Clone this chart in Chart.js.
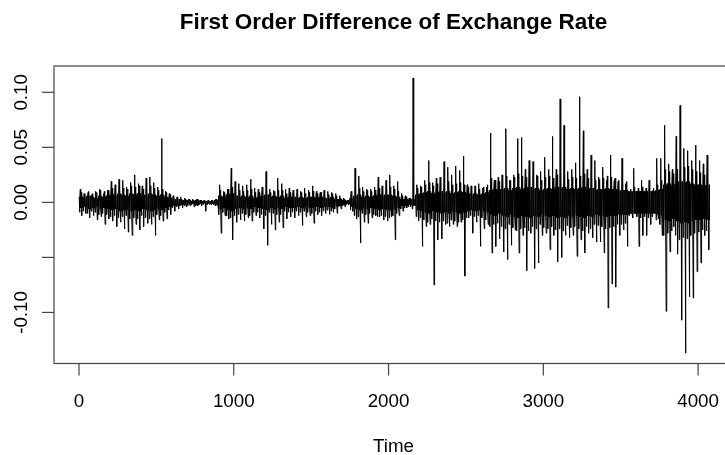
<!DOCTYPE html>
<html>
<head>
<meta charset="utf-8">
<script src="https://cdn.jsdelivr.net/npm/chart.js@4.4.1/dist/chart.umd.min.js"></script>
<style>
  html, body { margin: 0; padding: 0; background: #fff; overflow: hidden; }
  #wrap { width: 725px; height: 455px; overflow: hidden; }
</style>
</head>
<body>
<div id="wrap"><canvas id="myChart" width="760" height="455"></canvas></div>
<script>
// each bin spans 25 time steps (units of 0.001)
var binSize = 25;
// tallest upward stroke in each bin
var binHigh = [
  12, 8, 9, 7, 10, 12, 8, 11, 19, 16, 21, 20, 14, 18, 25, 17, 15, 22, 23, 18,
  14, 58, 10, 8, 6, 5, 5, 4, 3, 3, 3, 2, 2, 2, 2, 3, 16, 10, 12, 31,
  19, 17, 15, 16, 21, 13, 12, 14, 28, 12, 11, 22, 17, 12, 13, 11, 12, 10, 13, 11,
  15, 10, 9, 11, 10, 9, 8, 6, 4, 2, 10, 31, 24, 14, 12, 12, 14, 23, 15, 20,
  25, 15, 19, 8, 6, 4, 113, 16, 15, 20, 38, 18, 22, 23, 37, 32, 25, 33, 29, 42,
  16, 15, 15, 17, 13, 14, 63, 20, 23, 25, 67, 20, 25, 58, 59, 30, 38, 37, 25, 28,
  41, 30, 60, 30, 94, 70, 28, 30, 36, 96, 65, 30, 43, 38, 23, 32, 20, 43, 20, 19,
  40, 17, 10, 31, 10, 20, 10, 20, 11, 40, 40, 70, 35, 30, 60, 88, 49, 47, 38, 52,
  38, 35, 43
];
// deepest downward stroke in each bin
var binLow = [
  -12, -10, -14, -12, -16, -13, -20, -15, -17, -22, -18, -24, -27, -30, -20, -25, -22, -19, -20, -30,
  -16, -17, -15, -11, -8, -6, -5, -4, -3, -4, -3, -3, -8, -2, -2, -3, -28, -12, -15, -34,
  -18, -16, -17, -14, -17, -12, -14, -24, -39, -20, -25, -18, -23, -15, -13, -14, -12, -21, -13, -12,
  -19, -11, -12, -10, -11, -9, -10, -6, -4, -2, -8, -15, -37, -18, -19, -14, -12, -13, -16, -17,
  -13, -34, -12, -8, -5, -4, -3, -17, -40, -22, -20, -75, -34, -33, -20, -22, -20, -22, -18, -67,
  -14, -28, -18, -40, -24, -20, -46, -40, -33, -45, -52, -39, -25, -46, -30, -62, -28, -60, -55, -30,
  -28, -43, -30, -54, -50, -30, -32, -30, -49, -34, -46, -28, -32, -36, -36, -46, -96, -74, -77, -30,
  -25, -40, -10, -10, -40, -30, -30, -20, -10, -15, -30, -99, -45, -22, -47, -107, -137, -86, -87, -63,
  -55, -30, -43
];
// half-width of the solid black band in each bin
var binCore = [
  5, 4, 6, 5, 4, 6, 5, 6, 7, 6, 8, 7, 6, 8, 7, 8, 6, 7, 8, 7,
  6, 7, 5, 4, 3, 3, 2, 2, 2, 1, 2, 1, 1, 1, 1, 2, 6, 5, 7, 8,
  6, 5, 6, 5, 6, 4, 5, 6, 7, 5, 6, 5, 6, 4, 5, 5, 4, 5, 4, 5,
  5, 4, 5, 4, 4, 5, 3, 3, 2, 1, 4, 6, 7, 5, 6, 5, 6, 7, 6, 7,
  7, 6, 5, 3, 3, 2, 3, 7, 8, 9, 10, 8, 9, 10, 9, 10, 8, 9, 10, 9,
  8, 7, 8, 7, 8, 9, 11, 12, 10, 12, 13, 11, 13, 14, 12, 13, 14, 12, 13, 11,
  12, 13, 12, 14, 13, 14, 12, 13, 12, 13, 14, 12, 13, 11, 12, 12, 13, 12, 12, 11,
  11, 11, 10, 10, 10, 10, 10, 10, 10, 11, 12, 16, 17, 15, 17, 19, 18, 19, 17, 16,
  16, 15, 16
];
// reach of the thinner fuzz around the band
var binMid = [
  9, 8, 10, 8, 9, 11, 10, 11, 13, 12, 14, 13, 12, 15, 14, 15, 12, 14, 15, 13,
  11, 12, 9, 7, 5, 4, 3, 3, 3, 2, 3, 2, 2, 2, 2, 3, 11, 9, 12, 14,
  12, 11, 10, 11, 12, 9, 9, 11, 12, 9, 10, 11, 11, 8, 9, 9, 8, 9, 8, 9,
  10, 8, 9, 8, 7, 8, 6, 4, 3, 2, 7, 12, 13, 10, 11, 10, 11, 13, 12, 13,
  14, 12, 10, 6, 5, 4, 6, 13, 14, 16, 18, 15, 17, 18, 17, 19, 16, 17, 18, 16,
  14, 12, 13, 12, 14, 16, 22, 20, 19, 22, 24, 20, 23, 26, 24, 23, 26, 22, 24, 20,
  23, 24, 22, 25, 24, 26, 21, 23, 22, 24, 26, 22, 24, 20, 21, 22, 24, 23, 22, 20,
  20, 19, 12, 14, 13, 14, 13, 14, 13, 16, 20, 30, 28, 26, 30, 34, 32, 33, 30, 28,
  27, 25, 26
];
var xTicks = [0, 1000, 2000, 3000, 4000];
var yTicks = [-0.10, -0.05, 0.00, 0.05, 0.10];
var yTickLabels = ['-0.10', '', '0.00', '0.05', '0.10'];

// walk through each bin: band wiggles, fuzz strokes, then its high and low strokes
var points = [];
for (var i = 0; i < binHigh.length; i++) {
    var t0 = i * binSize, c = binCore[i], m = binMid[i];
    var seq = [c, -m, c, binHigh[i], -c, m, -c, binLow[i], c, -c];
    for (var k = 0; k < seq.length; k++) {
        points.push({ x: t0 + 1.25 + k * 2.5, y: seq[k] / 1000 });
    }
}

var font = '"Liberation Sans", Arial, Helvetica, sans-serif';

var rAxes = {
    id: 'rAxes',
    afterDraw: function(chart) {
        var c = chart.ctx, a = chart.chartArea;
        var xs = chart.scales.x, ys = chart.scales.y;
        c.save();
        c.strokeStyle = '#444';
        c.lineWidth = 1.2;
        c.strokeRect(a.left, a.top, a.right - a.left, a.bottom - a.top);

        c.fillStyle = '#000';
        c.font = '18.8px ' + font;
        c.textAlign = 'center';
        c.textBaseline = 'alphabetic';
        xTicks.forEach(function(t) {
            var px = xs.getPixelForValue(t);
            c.beginPath();
            c.moveTo(px, a.bottom);
            c.lineTo(px, a.bottom + 12);
            c.stroke();
            c.fillText(String(t), px, 406.5);
        });
        yTicks.forEach(function(v, k) {
            var py = ys.getPixelForValue(v);
            c.beginPath();
            c.moveTo(a.left, py);
            c.lineTo(a.left - 12, py);
            c.stroke();
            if (yTickLabels[k]) {
                c.save();
                c.translate(27, py);
                c.rotate(-Math.PI / 2);
                c.fillText(yTickLabels[k], 0, 0);
                c.restore();
            }
        });
        var cx = (a.left + a.right) / 2;
        c.fillText('Time', cx, 451.5);
        c.font = 'bold 22.5px ' + font;
        c.fillText('First Order Difference of Exchange Rate', cx, 29);
        c.restore();
    }
};

var ctx = document.getElementById('myChart').getContext('2d');

new Chart(ctx, {
    type: 'line',
    plugins: [rAxes],
    data: {
        datasets: [{
            data: points,
            borderColor: '#000',
            borderWidth: 1,
            pointRadius: 0,
            tension: 0,
            fill: false
        }]
    },
    options: {
        responsive: false,
        animation: false,
        devicePixelRatio: 1,
        layout: { padding: { left: 54, top: 66, right: 27, bottom: 91.5 } },
        scales: {
            x: { type: 'linear', min: -161.5, max: 4225.5, display: false },
            y: { type: 'linear', min: -0.1464, max: 0.1239, display: false }
        },
        plugins: {
            legend: { display: false },
            title: { display: false },
            tooltip: { enabled: false }
        }
    }
});
</script>
</body>
</html>
